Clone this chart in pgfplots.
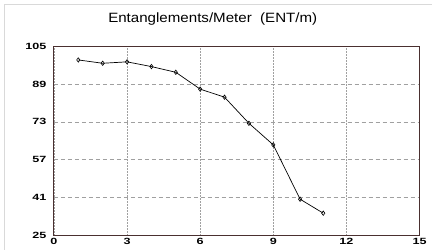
\documentclass[border=0pt]{standalone}
\usepackage{pgfplots}
\pgfplotsset{compat=1.18}
\usepackage{fontspec}
\setmainfont{Liberation Sans}
\definecolor{frame}{HTML}{4A3030}
\definecolor{gridc}{HTML}{A0A0A0}
\begin{document}
\begin{tikzpicture}[x=1pt,y=1pt]
\path[fill=white] (0,0) rectangle (432,250);
\draw[color=black!15, line width=1pt] (5,0) -- (5,245) -- (432,245);
\node[font=\fontsize{13.5}{14}\selectfont] at (213,231) {\scalebox{1.12}[1]{Entanglements/Meter\ \ (ENT/m)}};
\begin{axis}[
  at={(54pt,14pt)}, anchor=south west,
  scale only axis, width=366pt, height=190pt,
  xmin=0, xmax=15, ymin=25, ymax=105,
  xtick={0,3,6,9,12,15}, ytick={25,41,57,73,89,105},
  axis line style={color=frame, line width=0.9pt},
  major tick length=0pt,
  grid=major,
  x grid style={color=gridc, dash pattern=on 1.5pt off 1.5pt, line width=0.7pt},
  y grid style={color=gridc, dash pattern=on 4pt off 3pt, line width=0.7pt},
  /pgf/number format/assume math mode=true,
  ticklabel style={font=\fontsize{9}{9}\selectfont\bfseries},
  yticklabel={\scalebox{1.4}[1]{\pgfmathprintnumber{\tick}}},
  xticklabel={\scalebox{1.4}[1]{\pgfmathprintnumber{\tick}}},
  yticklabel style={xshift=-4pt},
  xticklabel style={yshift=1pt},
]
\addplot[black, line width=0.7pt, mark=diamond, mark size=2.2pt, mark options={solid, fill=white, line width=0.6pt}] coordinates {
(1,99.1) (2,97.7) (3,98.3) (4,96.3) (5,93.9) (6,86.8) (7,83.4) (8,72.4) (9,63.3) (10.1,40.4) (11.05,34.5)
};
\end{axis}
\end{tikzpicture}
\end{document}
